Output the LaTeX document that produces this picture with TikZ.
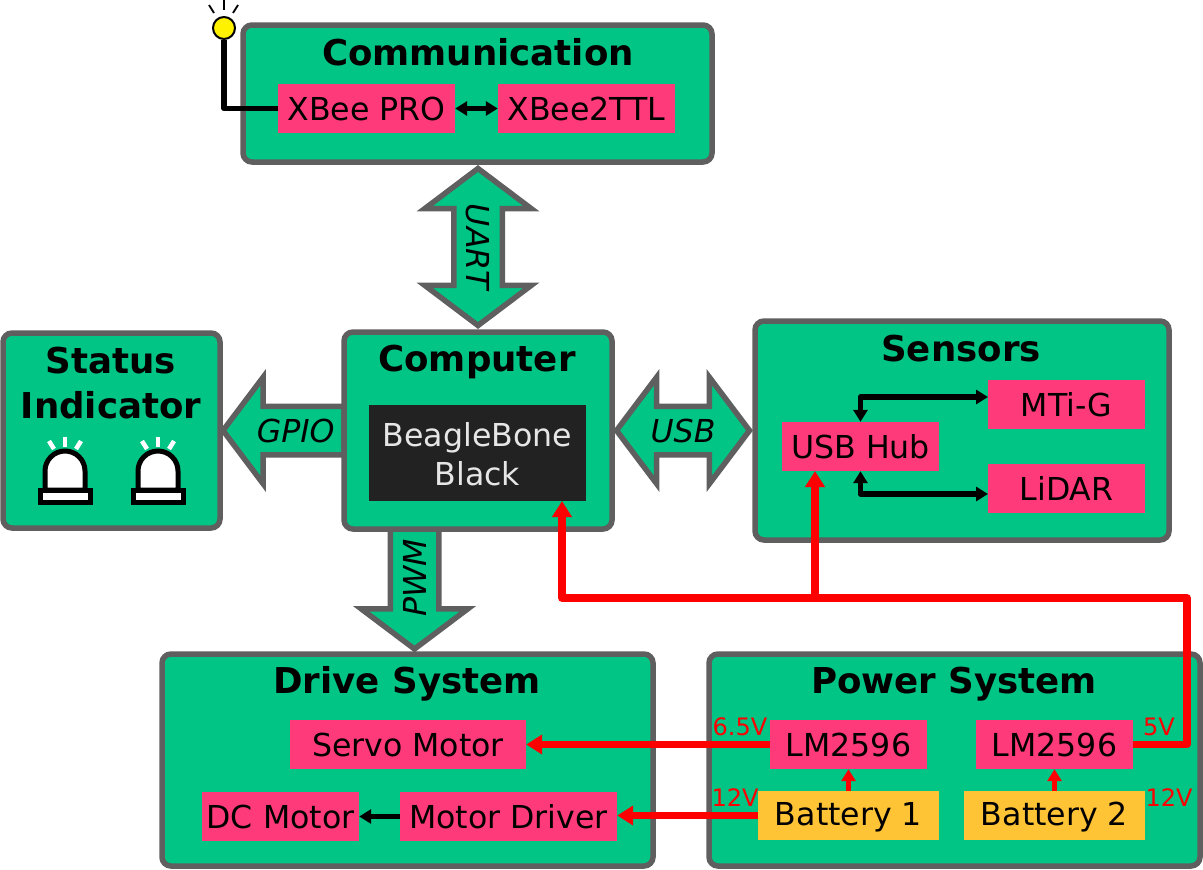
\documentclass[tikz,border=0pt]{standalone}
\usepackage{fontspec}
\setmainfont{DejaVu Sans}
\usetikzlibrary{shapes.arrows,arrows.meta}
\definecolor{grn}{HTML}{00C585}
\definecolor{gry}{HTML}{5F5F5F}
\definecolor{pnk}{HTML}{FF3A7B}
\definecolor{amb}{HTML}{FFC435}
\definecolor{drk}{HTML}{222222}
\definecolor{lgt}{HTML}{E6E6E6}
\newcommand{\fsN}{\fontsize{31.6}{39}\selectfont}
\newcommand{\fsT}{\fontsize{35.6}{45}\selectfont\bfseries}
\newcommand{\fsL}{\fontsize{24}{28}\selectfont}
\tikzset{
  x=1pt,y=-1pt,
  group/.style={draw=gry,fill=grn,line width=5.5pt,rounded corners=9pt},
  grouptitle/.style={font=\fsT,inner sep=0,align=center},
  part/.style={fill=pnk,minimum width=#1,minimum height=49pt,inner sep=0,font=\fsN,text height=24.5pt,text depth=0pt},
  batt/.style={fill=amb,minimum width=181pt,minimum height=49pt,inner sep=0,font=\fsN,text height=19pt,text depth=0pt},
  volt/.style={text=red,font=\fsL,inner sep=0},
  blockbase/.style={draw=gry,fill=grn,line width=5.5pt,inner xsep=0,inner ysep=0,outer sep=0,text height=33.5pt,text depth=9.5pt,font=\fsN\itshape,miter limit=10},
  dblock/.style={blockbase,double arrow,double arrow head extend=29pt,double arrow tip angle=106},
  sblock/.style={blockbase,single arrow,single arrow head extend=29pt,single arrow tip angle=106},
  blk/.style={draw=black,line width=5.5pt,line join=round},
  pwr/.style={draw=red,line width=7.5pt,line join=round},
  pwrthin/.style={draw=red,line width=5.5pt},
  bigtip/.style={-{Triangle[length=16pt,width=19pt]}},
  blktip/.style={{Triangle[length=12pt,width=14pt]}-{Triangle[length=12pt,width=14pt]}},
  smalltip/.style={-{Triangle[length=12pt,width=14pt]}},
  lampline/.style={draw=black,fill=white,line width=5pt},
  ray/.style={draw=white,line width=4.5pt},
  aray/.style={draw=black,line width=1.8pt},
}
\begin{document}
\begin{tikzpicture}
\useasboundingbox (0,0) rectangle (1203,870);
% block arrows
\node[dblock,rotate=-90,minimum height=157pt] (uart) at (478,247) {UART};
\node[dblock,minimum height=133pt] (usb) at (683,430.5) {USB};
% groups
\draw[group] (243,25) rectangle (712,162);
\node[grouptitle,anchor=base] (tcomm) at (478,65) {Communication};
\draw[group] (3,333) rectangle (220,528);
\node[grouptitle] (tstat) at (111,383) {Status\\Indicator};
\draw[group] (755,321) rectangle (1169,540);
\node[grouptitle,anchor=base] (tsens) at (961,361) {Sensors};
\draw[group] (162,654) rectangle (653,866);
\node[grouptitle,anchor=base] (tdrv) at (407,693) {Drive System};
\draw[group] (709,654) rectangle (1200,866);
\node[grouptitle,anchor=base] (tpwr) at (954,693) {Power System};
\node[sblock,shape border rotate=180,anchor=tail,minimum height=121pt] (gpio) at (344,430.5) {\makebox[85pt]{\hspace{6pt}GPIO}};
\node[sblock,rotate=90,shape border rotate=180,anchor=tail,minimum height=120pt] (pwm) at (414.5,529) {\makebox[83pt]{\hspace{4pt}PWM}};
\draw[group] (344,332) rectangle (612,529);
\node[grouptitle,anchor=base] (tcomp) at (477,371) {Computer};
% parts
\node[part=177pt] (xbee) at (366.5,108.5) {XBee PRO};
\node[part=177pt] (ttl) at (586.5,108.5) {XBee2TTL};
\node[fill=drk,text=lgt,minimum width=217pt,minimum height=96pt,inner sep=0,font=\fsN,align=center] (bbb) at (477.5,453) {\rule{0pt}{26pt}BeagleBone\\Black};
\node[part=157pt] (hub) at (860.5,446.5) {USB Hub};
\node[part=157pt] (mti) at (1066.5,404.5) {MTi-G};
\node[part=157pt] (lidar) at (1066.5,488) {LiDAR};
\node[part=236pt] (servo) at (408,744.5) {Servo Motor};
\node[part=157pt] (lma) at (848.5,744.5) {LM2596};
\node[part=157pt] (lmb) at (1054.5,744.5) {LM2596};
\node[batt] (bata) at (848.5,815.5) {Battery 1};
\node[batt] (batb) at (1054.5,815.5) {Battery 2};
\node[part=157pt] (dc) at (280.5,816.5) {DC Motor};
\node[part=217pt] (drv) at (508.5,816.5) {Motor Driver};
% antenna
\node[circle,draw=black,fill=yellow,line width=2pt,minimum size=22pt,inner sep=0] (ant) at (224,28) {};
\draw[aray] (224,0) -- (224,10);
\draw[aray] (209,5) -- (214,13);
\draw[aray] (238,5) -- (233,13);
\draw[blk] (xbee.west) -| (ant.south);
% black links
\draw[blk,blktip] (xbee.east) -- (ttl.west);
\coordinate (mtiin) at (988,397);
\coordinate (lidin) at (988,494);
\draw[blk,blktip] (hub.north) |- (mtiin);
\draw[blk,blktip] (hub.south) |- (lidin);
\draw[blk,smalltip] (drv.west) -- (dc.east);
% power links
\coordinate (bbbin) at (562,501);
\coordinate (hubin) at (815,471);
\coordinate (busr) at (1187,598);
\coordinate (busm) at (815,598);
\draw[pwr,bigtip] (lmb.east) -| (busr) -- (562,598) -- (bbbin);
\draw[pwr,bigtip] (busm) -- (hubin);
\draw[pwr,bigtip] (lma.west) -- (servo.east);
\draw[pwr,bigtip] (bata.west) -- (bata.west -| drv.east);
\draw[pwrthin,smalltip] (bata.north) -- (lma.south);
\draw[pwrthin,smalltip] (batb.north) -- (lmb.south);
% labels
\node[volt] (v65) at (740,727) {6.5V};
\node[volt] (v12a) at (735,798) {12V};
\node[volt] (v5) at (1159,727) {5V};
\node[volt] (v12b) at (1169,798) {12V};
% lamps
\foreach \nm/\cx in {a/65,b/158}{
  \begin{scope}[shift={(\cx,0)}]
    \draw[lampline] (-20,490) -- (-20,471) arc[start angle=180,end angle=360,x radius=20,y radius=20] -- (20,490) -- cycle;
    \draw[lampline] (-25,490) rectangle (25,502);
    \draw[ray] (0,437) -- (0,447);
    \draw[ray] (-16,441) -- (-11,449);
    \draw[ray] (16,441) -- (11,449);
  \end{scope}
}
\end{tikzpicture}
\end{document}
